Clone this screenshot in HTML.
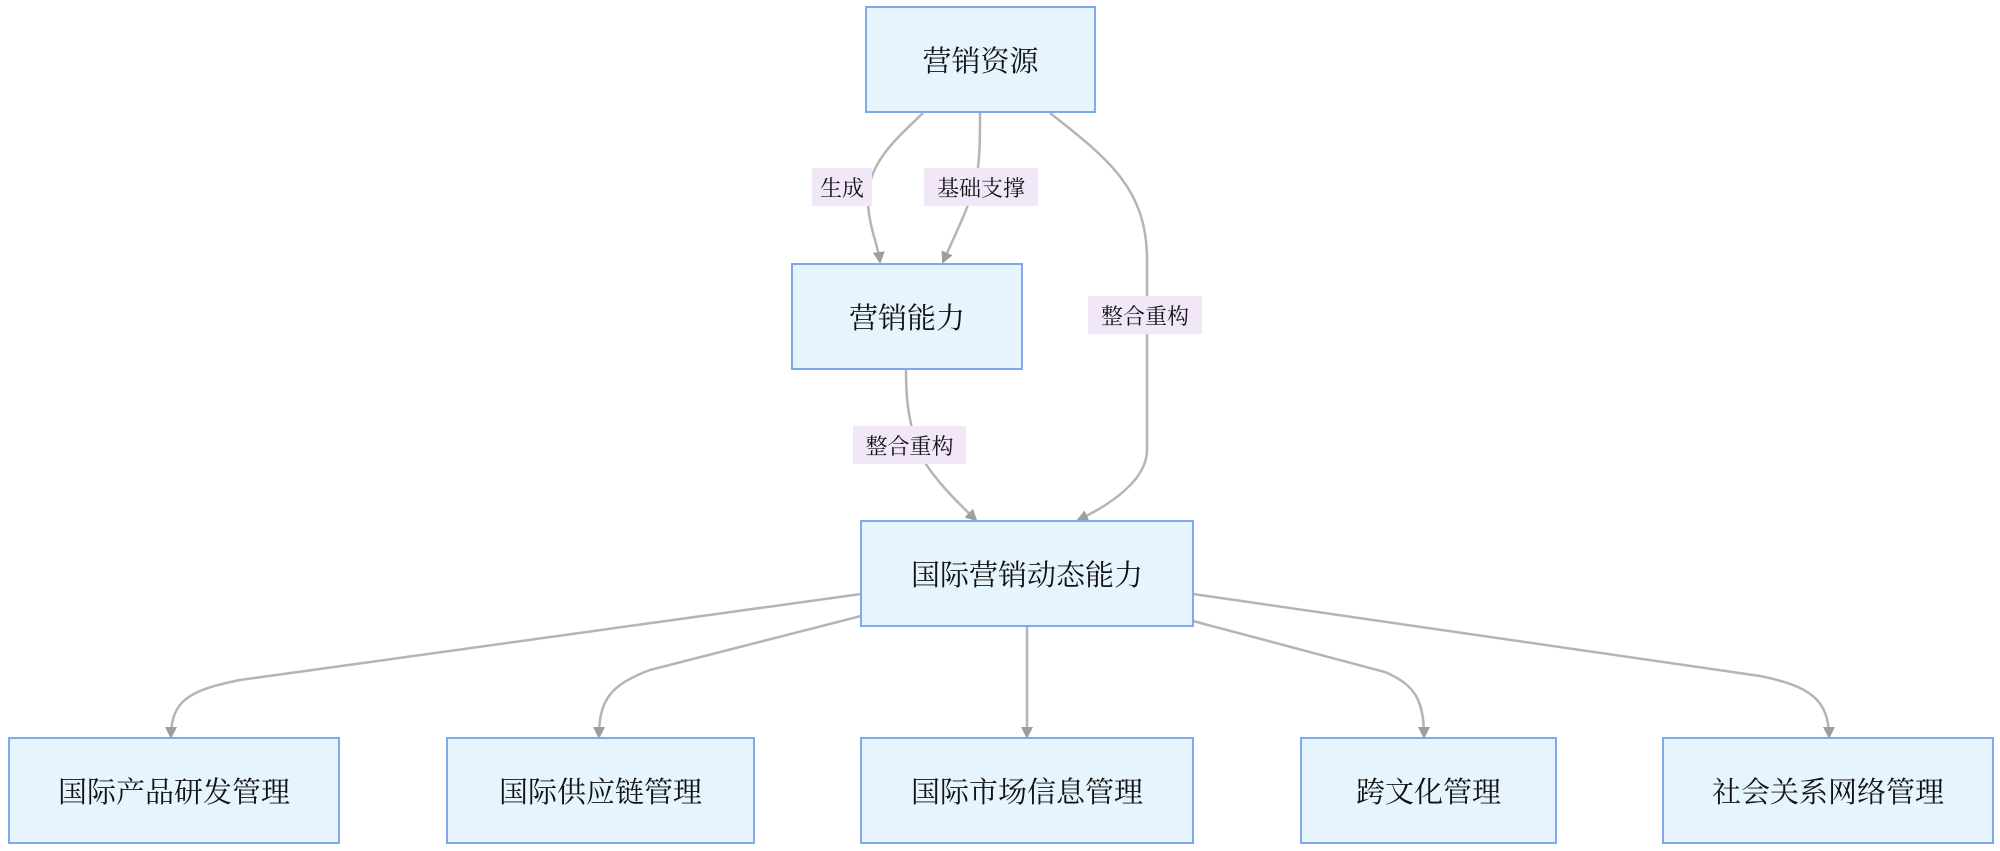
<!DOCTYPE html>
<html><head><meta charset="utf-8"><style>
html,body{margin:0;padding:0;background:#fff;}
body{width:2000px;height:851px;position:relative;overflow:hidden;font-family:"Liberation Serif","Noto Serif CJK SC",serif;}
.b{position:absolute;box-sizing:border-box;background:#e6f5fd;border:2px solid #7fa9ec;display:flex;align-items:center;justify-content:center;font-size:29px;color:#111;}
.l{position:absolute;background:#f1e7f8;font-size:22px;color:#111;display:flex;align-items:center;justify-content:center;}
svg{position:absolute;left:0;top:0;}
</style></head><body>
<svg width="2000" height="851">
<defs><marker id="a" markerWidth="12" markerHeight="12" refX="10" refY="6" orient="auto" markerUnits="userSpaceOnUse"><path d="M0,0 L12,6 L0,12 z" fill="#9e9e9e"/></marker></defs>
<g fill="none" stroke="#b5b5b5" stroke-width="2.5" marker-end="url(#a)">
<path d="M923,113 C895,140 865,165 868,205 C870,230 878,245 880,262"/>
<path d="M980,113 C980,140 980,160 976,180 C970,205 955,235 943,262"/>
<path d="M1050,113 C1110,160 1147,190 1147,260 L1147,450 C1147,480 1110,505 1078,520"/>
<path d="M906,370 C906,400 908,420 920,455 C935,480 955,500 976,520"/>
<path d="M861,594 L240,680 C190,690 171,700 171,737"/>
<path d="M861,616 L650,670 C610,685 599,700 599,737"/>
<path d="M1027,627 L1027,737"/>
<path d="M1193,621 L1385,672 C1415,685 1424,700 1424,737"/>
<path d="M1193,594 L1760,676 C1810,686 1829,700 1829,737"/>
</g>
</svg>
<div class="b" style="left:865px;top:6px;width:231px;height:107px">营销资源</div>
<div class="b" style="left:791px;top:263px;width:232px;height:107px">营销能力</div>
<div class="b" style="left:860px;top:520px;width:334px;height:107px">国际营销动态能力</div>
<div class="b" style="left:8px;top:737px;width:332px;height:107px">国际产品研发管理</div>
<div class="b" style="left:446px;top:737px;width:309px;height:107px">国际供应链管理</div>
<div class="b" style="left:860px;top:737px;width:334px;height:107px">国际市场信息管理</div>
<div class="b" style="left:1300px;top:737px;width:257px;height:107px">跨文化管理</div>
<div class="b" style="left:1662px;top:737px;width:332px;height:107px">社会关系网络管理</div>
<div class="l" style="left:812px;top:168px;width:60px;height:38px">生成</div>
<div class="l" style="left:924px;top:168px;width:114px;height:38px">基础支撑</div>
<div class="l" style="left:1088px;top:296px;width:114px;height:38px">整合重构</div>
<div class="l" style="left:853px;top:426px;width:113px;height:38px">整合重构</div>
</body></html>
